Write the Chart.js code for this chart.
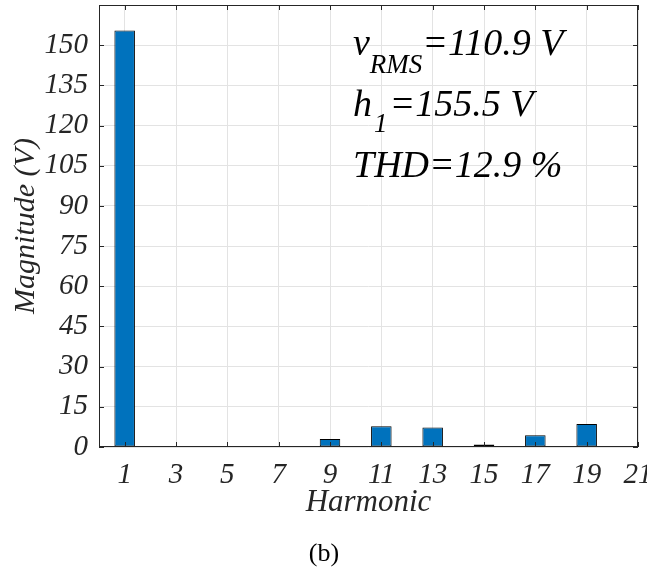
<!DOCTYPE html>
<html lang="en">
<head>
<meta charset="UTF-8" />
<title>harmonic spectrum</title>
<script src="https://cdn.jsdelivr.net/npm/chart.js@4"></script>
<style>
  body { margin: 0; background: #fff; }
  #wrap { width: 647px; height: 571px; }
</style>
</head>
<body>
<div id="wrap"><canvas id="spectrum" width="647" height="571"></canvas></div>
<script>
  // harmonic order and magnitude (V)
  const harmonics = [1, 2, 3, 4, 5, 6, 7, 8, 9, 10, 11, 12, 13, 14, 15, 16, 17, 18, 19, 20, 21];
  const magnitude = [155.5, 0, 0.2, 0, 0.2, 0, 0.2, 0, 3.0, 0, 7.7, 0, 7.3, 0, 0.9, 0, 4.4, 0, 8.6, 0, 0];

  // tick labels
  const xTicks = [1, 3, 5, 7, 9, 11, 13, 15, 17, 19, 21];
  const yTicks = [0, 15, 30, 45, 60, 75, 90, 105, 120, 135, 150];

  // annotation text
  const vRms = "=110.9 V";
  const h1 = "=155.5 V";
  const thd = "THD=12.9 %";

  const serif = '"Liberation Serif", "Times New Roman", "DejaVu Serif", serif';
  const axisColor = "#262626";
  const gridColor = "#e3e3e3";
  const barColor = "#0072BD";

  const tickFont = { family: serif, size: 29, style: "italic" };
  const bigFont = "italic 38px " + serif;
  const subFont = "italic 27px " + serif;

  // box round the plot + inward tick marks, like matlab
  const frame = {
    id: "frame",
    afterDatasetsDraw(chart) {
      const { ctx, chartArea: a, scales } = chart;
      const x = scales.x, y = scales.y;
      const tl = 5;
      ctx.save();
      ctx.strokeStyle = axisColor;
      ctx.lineWidth = 1;
      ctx.beginPath();
      xTicks.forEach((v) => {
        const px = Math.round(x.getPixelForValue(v)) + 0.5;
        ctx.moveTo(px, a.bottom);
        ctx.lineTo(px, a.bottom - tl);
        ctx.moveTo(px, a.top);
        ctx.lineTo(px, a.top + tl);
      });
      yTicks.forEach((v) => {
        const py = Math.round(y.getPixelForValue(v)) + 0.5;
        ctx.moveTo(a.left, py);
        ctx.lineTo(a.left + tl, py);
        ctx.moveTo(a.right, py);
        ctx.lineTo(a.right - tl, py);
      });
      ctx.stroke();
      ctx.strokeRect(Math.round(a.left) + 0.5, Math.round(a.top) + 0.5,
        Math.round(a.width) - 1, Math.round(a.height) - 1);
      ctx.restore();
    },
    afterDraw(chart) {
      const ctx = chart.ctx;
      ctx.save();
      ctx.fillStyle = "#000";
      ctx.textBaseline = "alphabetic";
      ctx.textAlign = "left";

      // v_RMS
      let x0 = 353;
      ctx.font = bigFont;
      ctx.fillText("v", x0, 55);
      let w = ctx.measureText("v").width;
      ctx.font = subFont;
      ctx.fillText("RMS", x0 + w, 73);
      w += ctx.measureText("RMS").width;
      ctx.font = bigFont;
      ctx.fillText(vRms, x0 + w, 55);

      // h_1
      ctx.font = bigFont;
      ctx.fillText("h", x0, 116);
      w = ctx.measureText("h").width;
      ctx.font = subFont;
      ctx.fillText("1", x0 + w + 2, 132);
      w += ctx.measureText("1").width + 4;
      ctx.font = bigFont;
      ctx.fillText(h1, x0 + w, 116);

      // THD
      ctx.fillText(thd, x0, 177);

      // caption
      ctx.font = "26px " + serif;
      ctx.textAlign = "center";
      ctx.fillText("(b)", 324, 561);
      ctx.restore();
    },
  };

  const ctx = document.getElementById("spectrum").getContext("2d");

  const chart = new Chart(ctx, {
    type: "bar",
    data: {
      datasets: [
        {
          data: harmonics.map((h, i) => ({ x: h, y: magnitude[i] })),
          backgroundColor: barColor,
          borderColor: "#000",
          borderWidth: 1,
          borderSkipped: false,
          barPercentage: 0.8,
          categoryPercentage: 1,
        },
      ],
    },
    plugins: [frame],
    options: {
      responsive: false,
      animation: false,
      layout: { padding: { left: 0, top: 5, right: 9, bottom: 0 } },
      plugins: {
        legend: { display: false },
        tooltip: { enabled: false },
      },
      scales: {
        x: {
          type: "linear",
          min: 0,
          max: 21,
          offset: false,
          afterBuildTicks(scale) {
            scale.ticks = xTicks.map((v) => ({ value: v }));
          },
          afterFit(scale) {
            scale.height = 124;
            scale.paddingLeft = 0;
            scale.paddingRight = 0;
          },
          grid: { color: gridColor, drawTicks: false, offset: false },
          border: { display: false },
          ticks: {
            font: tickFont,
            color: axisColor,
            padding: 11,
            maxRotation: 0,
            autoSkip: false,
          },
          title: {
            display: true,
            text: "Harmonic",
            font: { family: serif, size: 31, style: "italic" },
            color: axisColor,
            padding: { top: 0, bottom: 50 },
          },
        },
        y: {
          min: 0,
          max: 165,
          afterBuildTicks(scale) {
            scale.ticks = yTicks.map((v) => ({ value: v }));
          },
          afterFit(scale) {
            scale.width = 99;
            scale.paddingTop = 0;
            scale.paddingBottom = 0;
          },
          grid: { color: gridColor, drawTicks: false },
          border: { display: false },
          ticks: {
            font: tickFont,
            color: axisColor,
            padding: 11,
          },
          title: {
            display: true,
            text: "Magnitude (V)",
            font: { family: serif, size: 30, style: "italic" },
            color: axisColor,
            padding: { top: 8, bottom: 0 },
          },
        },
      },
    },
  });
</script>
</body>
</html>
